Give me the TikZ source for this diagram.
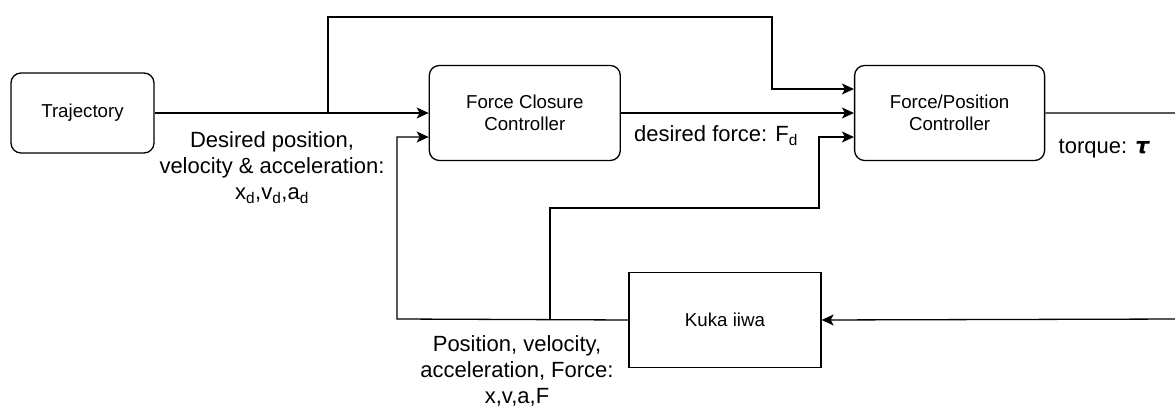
\documentclass[tikz,border=0pt]{standalone}
\usepackage{fontspec}
\setmainfont{Liberation Sans}
\newfontfamily\taufont{DejaVu Sans}
\usepackage{tikz}
\usetikzlibrary{positioning, arrows.meta}

\begin{document}
\begin{tikzpicture}[
			x=1pt, y=1pt,
			line width=1.3pt,
			>={Stealth[length=12pt, width=11pt, inset=3pt]},
			block/.style = {
				rectangle,
				rounded corners=10pt,
				draw=black,
				align=center,
				font=\fontsize{18.7}{22.4}\selectfont,
				minimum height=95pt,
				inner sep=4pt
			},
			planta/.style = {
				block,
				rounded corners=0pt,
				minimum width=192pt
			},
			lbl/.style = {
				align=center,
				inner sep=0pt,
				font=\fontsize{22}{26}\selectfont
			}
			]
			\useasboundingbox (0,0) rectangle (1175,412);
			
			\node[block, minimum width=143pt, minimum height=80pt] (traj) at (82.5,299) {Trajectory};
			\node[block, minimum width=191pt, right=274pt of traj] (fcc) {Force Closure\\Controller};
			\node[block, minimum width=190pt, right=233pt of fcc] (fpc) {Force/Position\\Controller};
			\node[planta] (kuka) at (725,92) {Kuka iiwa};
			
			\coordinate (branch) at (328,299);
			\coordinate (top) at (772,395);
			\coordinate (fbl) at (397,93);
			\coordinate (fbm) at (550,93);
			\coordinate (fbr) at (819,204);
			\coordinate (outr) at (1185,93);
			
			\draw[->] (traj.east) -- (fcc.west);
			\draw[->] (branch) |- (top) |- ([yshift=24pt]fpc.west);
			\draw[->] (fcc.east) -- (fpc.west);
			\draw[->] (kuka.west) -- (fbl) |- ([yshift=-24pt]fcc.west);
			\draw[->] (fbm) |- (fbr) |- ([yshift=-24pt]fpc.west);
			\draw[->] (fpc.east) -| (outr) -- (kuka.east);
			
			\node[lbl] (ldes) at (272,244) {Desired position,\\velocity \& acceleration:\\x\textsubscript{d},v\textsubscript{d},a\textsubscript{d}};
			\node[lbl] (lforce) at (716,276) {desired force: F\textsubscript{d}};
			\node[lbl] (ltorque) at (1104,263) {torque: {\taufont\bfseries\itshape τ}};
			\node[lbl] (lstate) at (517,41) {Position, velocity,\\acceleration, Force:\\x,v,a,F};
			
		\end{tikzpicture}
\end{document}
